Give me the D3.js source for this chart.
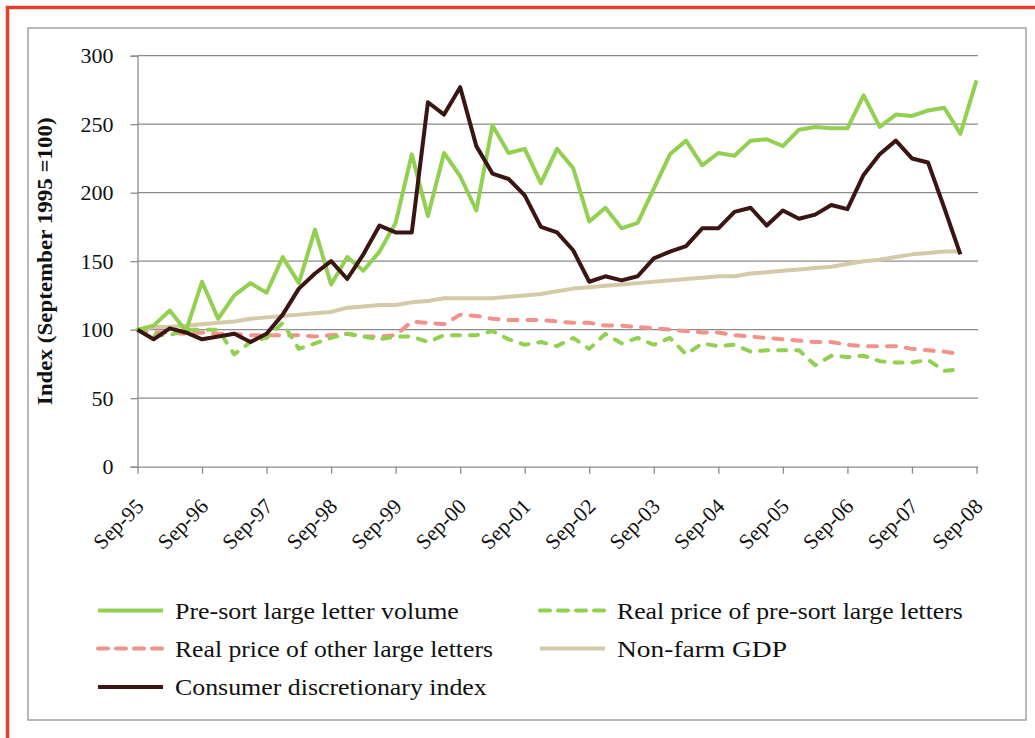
<!DOCTYPE html>
<html>
<head>
<meta charset="utf-8">
<script src="https://cdn.jsdelivr.net/npm/d3@7"></script>
<style>
  html, body { margin: 0; padding: 0; background: #fff; }
  svg { display: block; }
  text { font-family: "Liberation Serif", "Times New Roman", serif; fill: #111; }
</style>
</head>
<body>
<svg id="chart" width="1035" height="738"></svg>
<script>
// Quarterly observations, Sep-95 to Sep-08
const quarters = [
  "Sep-95","Dec-95","Mar-96","Jun-96","Sep-96","Dec-96","Mar-97","Jun-97",
  "Sep-97","Dec-97","Mar-98","Jun-98","Sep-98","Dec-98","Mar-99","Jun-99",
  "Sep-99","Dec-99","Mar-00","Jun-00","Sep-00","Dec-00","Mar-01","Jun-01",
  "Sep-01","Dec-01","Mar-02","Jun-02","Sep-02","Dec-02","Mar-03","Jun-03",
  "Sep-03","Dec-03","Mar-04","Jun-04","Sep-04","Dec-04","Mar-05","Jun-05",
  "Sep-05","Dec-05","Mar-06","Jun-06","Sep-06","Dec-06","Mar-07","Jun-07",
  "Sep-07","Dec-07","Mar-08","Jun-08","Sep-08"
];
const tickLabels = ["Sep-95","Sep-96","Sep-97","Sep-98","Sep-99","Sep-00","Sep-01",
  "Sep-02","Sep-03","Sep-04","Sep-05","Sep-06","Sep-07","Sep-08"];
const yTicks = [0, 50, 100, 150, 200, 250, 300];

const presortVolume = [100,103,114,99,135,108,125,134,127,153,134,173,133,153,143,157,
  178,228,183,229,212,187,249,229,232,207,232,218,179,189,174,178,203,228,238,220,
  229,227,238,239,234,246,248,247,247,271,248,257,256,260,262,243,282];
const presortPrice = [100,96,96,100,100,100,82,91,94,105,86,90,94,97,95,93,95,95,
  91,96,96,96,99,93,89,91,88,94,86,97,90,94,89,94,82,90,88,89,84,85,85,85,74,81,80,
  81,77,76,76,78,70,71];
const otherPrice = [100,98,98,97,98,97,97,96,96,96,96,95,96,97,95,95,96,106,105,104,
  111,110,108,107,107,107,106,105,105,103,103,102,101,100,99,98,98,96,95,94,93,92,
  91,91,89,88,88,88,86,85,84,82];
const gdp = [100,102,102,103,104,105,106,108,109,110,111,112,113,116,117,118,118,120,
  121,123,123,123,123,124,125,126,128,130,131,132,133,134,135,136,137,138,139,139,
  141,142,143,144,145,146,148,150,151,153,155,156,157,157];
const discretionary = [100,93,101,98,93,95,97,91,97,111,130,141,150,137,155,176,171,
  171,266,257,277,234,214,210,198,175,171,158,135,139,136,139,152,157,161,174,174,
  186,189,176,187,181,184,191,188,213,228,238,225,222,189,155];

const series = [
  { name: "Pre-sort large letter volume", values: presortVolume, color: "#92d050", dash: null },
  { name: "Real price of pre-sort large letters", values: presortPrice, color: "#92d050", dash: "8,10" },
  { name: "Real price of other large letters", values: otherPrice, color: "#f2928a", dash: "9,10" },
  { name: "Non-farm GDP", values: gdp, color: "#d5caa8", dash: null },
  { name: "Consumer discretionary index", values: discretionary, color: "#3b1414", dash: null }
];
// draw order: beige and dashed underneath, solid green and dark on top
const drawOrder = [3, 2, 1, 0, 4];

const svg = d3.select("#chart");

// page frame
svg.append("rect").attr("x", 28).attr("y", 28).attr("width", 998).attr("height", 692)
  .attr("fill", "none").attr("stroke", "#a3a3a3").attr("stroke-width", 1.5);
svg.append("path").attr("d", "M7.5,740 V7.5 H1040")
  .attr("fill", "none").attr("stroke", "#e5402f").attr("stroke-width", 3.5);

const x = d3.scalePoint().domain(quarters).range([137.5, 976.5]);
const y = d3.scaleLinear().domain([0, 300]).range([466.7, 55.7]);
const xEnd = 978;

// horizontal gridlines
svg.append("g").selectAll("line").data(yTicks.filter(d => d > 0)).join("line")
  .attr("x1", 137.5).attr("x2", xEnd)
  .attr("y1", d => y(d)).attr("y2", d => y(d))
  .attr("stroke", "#8c8c8c").attr("stroke-width", 1.3);

// y axis
const yAxis = svg.append("g").attr("transform", "translate(137.5,0)")
  .call(d3.axisLeft(y).tickValues(yTicks).tickSize(7).tickPadding(17));
yAxis.select(".domain").attr("stroke", "#8c8c8c").attr("stroke-width", 1.3);
yAxis.selectAll(".tick line").attr("stroke", "#8c8c8c").attr("stroke-width", 1.3);
yAxis.selectAll(".tick text").attr("font-family", "Liberation Serif").attr("font-size", 22)
  .attr("fill", "#111");

// x axis
const xAxis = svg.append("g").attr("transform", `translate(0,${y(0)})`)
  .call(d3.axisBottom(x).tickValues(tickLabels).tickSize(7).tickSizeOuter(0));
xAxis.select(".domain").attr("d", `M137.5,0.5H${xEnd}`)
  .attr("stroke", "#8c8c8c").attr("stroke-width", 1.3);
xAxis.selectAll(".tick line").attr("stroke", "#8c8c8c").attr("stroke-width", 1.3);
xAxis.selectAll(".tick text")
  .attr("font-family", "Liberation Serif").attr("font-size", 21.5).attr("fill", "#111")
  .attr("text-anchor", "end")
  .attr("transform", "translate(7,41) rotate(-45)")
  .attr("x", 0).attr("y", 0).attr("dy", 0);

// stretch a text node horizontally so its run matches a given width
function fitWidth(sel, width) {
  const len = sel.node().getComputedTextLength();
  return len > 0 ? width / len : 1;
}

// y axis title
const yTitle = svg.append("text")
  .attr("text-anchor", "middle")
  .attr("font-size", 22).attr("font-weight", "bold")
  .text("Index (September 1995 =100)");
yTitle.attr("transform",
  `translate(52,${(y(0) + y(300)) / 2}) rotate(-90) scale(${fitWidth(yTitle, 288)},1)`);

// series lines
const line = d3.line().x((d, i) => x(quarters[i])).y(d => y(d));
const linesG = svg.append("g");
drawOrder.forEach(k => {
  const s = series[k];
  linesG.append("path")
    .datum(s.values)
    .attr("d", line)
    .attr("fill", "none")
    .attr("stroke", s.color)
    .attr("stroke-width", 4)
    .attr("stroke-linejoin", "round")
    .attr("stroke-linecap", s.dash ? "round" : "butt")
    .attr("stroke-dasharray", s.dash);
});

// legend
const legendLayout = [
  { x: 98, y: 610.5, w: 284 },
  { x: 540, y: 610.5, w: 346 },
  { x: 98, y: 648.5, w: 318 },
  { x: 540, y: 648.5, w: 170 },
  { x: 98, y: 687, w: 312 }
];
const legend = svg.append("g");
series.forEach((s, i) => {
  const L = legendLayout[i];
  legend.append("line")
    .attr("x1", L.x).attr("x2", L.x + 65)
    .attr("y1", L.y).attr("y2", L.y)
    .attr("stroke", s.color).attr("stroke-width", 4)
    .attr("stroke-linecap", s.dash ? "round" : "butt")
    .attr("stroke-dasharray", s.dash ? "10,8" : null);
  const t = legend.append("text")
    .attr("font-size", 23)
    .text(s.name);
  t.attr("transform", `translate(${L.x + 77},${L.y + 8}) scale(${fitWidth(t, L.w)},1)`);
});
</script>
</body>
</html>
